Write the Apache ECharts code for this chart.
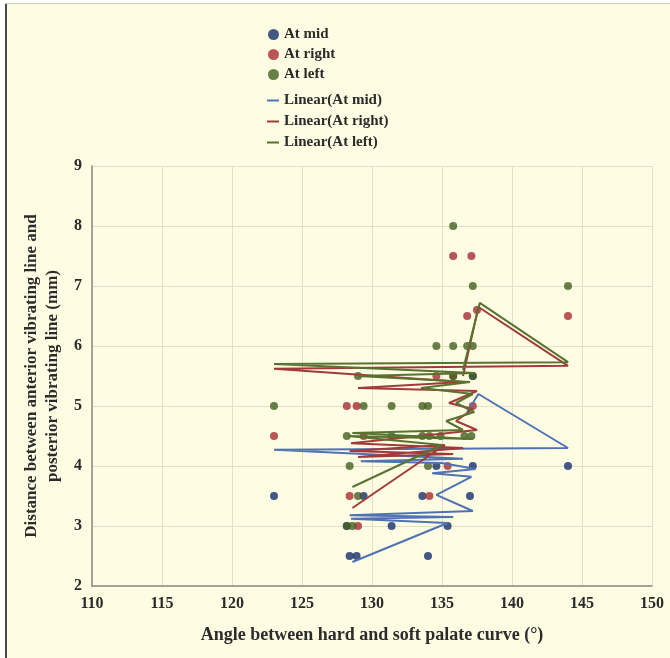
<!DOCTYPE html>
<html>
<head>
<meta charset="utf-8">
<script src="https://cdn.jsdelivr.net/npm/echarts@6/dist/echarts.min.js"></script>
<style>
  html, body { margin: 0; padding: 0; background: #fff; }
  #chart { width: 670px; height: 658px; }
</style>
</head>
<body>
<div id="chart"></div>
<script>
// scatter points
var midX   = [123, 128.4, 128.9, 128.2, 129.4, 131.4, 134.0, 133.6, 135.4, 134.6, 137.0, 137.2, 137.2, 144];
var midY   = [3.5, 2.5,   2.5,   3.0,   3.5,   3.0,   2.5,   3.5,   3.0,   4.0,   3.5,   4.0,   5.5,   4.0];
var rightX = [123, 128.4, 129.0, 134.1, 135.4, 129.4, 128.2, 128.9, 137.2, 134.6, 135.8, 135.8, 137.1, 136.8, 137.5, 144];
var rightY = [4.5, 3.5,   3.0,   3.5,   4.0,   4.5,   5.0,   5.0,   5.0,   5.5,   5.5,   7.5,   7.5,   6.5,   6.6,   6.5];
var leftX  = [123, 128.2, 128.6, 129.0, 128.4, 134.0, 128.2, 131.4, 133.6, 134.1, 134.9, 136.6, 137.1, 129.4, 131.4, 133.6, 134.0, 129.0, 135.8, 137.2, 134.6, 135.8, 136.8, 137.2, 135.8, 137.2, 144];
var leftY  = [5.0, 3.0,   3.0,   3.5,   4.0,   4.0,   4.5,   4.5,   4.5,   4.5,   4.5,   4.5,   4.5,   5.0,   5.0,   5.0,   5.0,   5.5,   5.5,   5.5,   6.0,   6.0,   6.0,   6.0,   8.0,   7.0,   7.0];

// "Linear" traces, vertices in drawing order
var linMidX   = [128.6, 135.4, 128.5, 135.8, 128.4, 137.2, 134.6, 137.1, 134.3, 137.4, 135.0, 129.2, 136.5, 123.0, 144.0, 137.6, 136.8];
var linMidY   = [2.4,   3.05,  3.12,  3.15,  3.18,  3.25,  3.52,  3.82,  3.88,  3.95,  4.05,  4.08,  4.12,  4.27,  4.3,   5.2,   4.9];
var linRightX = [128.6, 135.2, 128.4, 135.8, 129.0, 136.5, 128.5, 137.5, 136.0, 137.2, 135.5, 137.5, 129.0, 136.5, 123.0, 144.0, 137.6, 136.5];
var linRightY = [3.3,   4.35,  4.25,  4.2,   4.15,  4.3,   4.38,  4.6,   4.75,  4.95,  5.05,  5.25,  5.3,   5.4,   5.62,  5.67,  6.65,  5.5];
var linLeftX  = [128.6, 135.0, 128.3, 137.2, 128.6, 136.5, 135.3, 137.3, 136.0, 137.2, 133.5, 137.0, 129.0, 137.3, 123.0, 144.0, 137.7, 136.5];
var linLeftY  = [3.65,  4.35,  4.5,   4.45,  4.55,  4.6,   4.75,  4.9,   5.05,  5.2,   5.3,   5.4,   5.5,   5.55,  5.7,   5.73,  6.72,  5.6];

function pairs(xs, ys) {
  var out = [];
  for (var i = 0; i < xs.length; i++) out.push([xs[i], ys[i]]);
  return out;
}

var serif = "'Liberation Serif', 'DejaVu Serif', serif";
var textCol = '#2b2b2b';

var chart = echarts.init(document.getElementById('chart'));
chart.setOption({
  backgroundColor: '#fefde4',
  animation: false,
  graphic: [
    { type: 'rect', shape: { x: 0, y: 0, width: 5, height: 658 }, style: { fill: '#fff' } },
    { type: 'rect', shape: { x: 5, y: 0, width: 2, height: 658 }, style: { fill: '#4a4a4a' } },
    { type: 'rect', shape: { x: 0, y: 0, width: 670, height: 3 }, style: { fill: '#fff' } },
    { type: 'rect', shape: { x: 5, y: 3, width: 665, height: 1 }, style: { fill: '#cfcbaa' } }
  ],
  legend: [
    {
      orient: 'vertical', left: 263, top: 22, itemGap: 5,
      icon: 'circle', itemWidth: 11, itemHeight: 11,
      textStyle: { fontFamily: serif, fontSize: 15, fontWeight: 'bold', color: textCol },
      data: ['At mid', 'At right', 'At left']
    },
    {
      orient: 'vertical', left: 262, top: 88, itemGap: 6,
      icon: 'rect', itemWidth: 12, itemHeight: 2,
      textStyle: { fontFamily: serif, fontSize: 15, fontWeight: 'bold', color: textCol },
      data: ['Linear(At mid)', 'Linear(At right)', 'Linear(At left)']
    }
  ],
  grid: { left: 92, right: 18, top: 166, bottom: 72 },
  xAxis: {
    type: 'value', min: 110, max: 150, interval: 5,
    name: 'Angle between hard and soft palate curve (°)',
    nameLocation: 'middle', nameGap: 40,
    nameTextStyle: { fontFamily: serif, fontSize: 18, fontWeight: 'bold', color: textCol },
    axisLine: { lineStyle: { color: '#8a8a80', width: 1.5 } },
    axisTick: { show: false },
    axisLabel: { fontFamily: serif, fontSize: 16, fontWeight: 'bold', color: textCol, margin: 10 },
    splitLine: { show: true, lineStyle: { color: '#e2dfc8' } }
  },
  yAxis: {
    type: 'value', min: 2, max: 9, interval: 1,
    name: 'Distance between anterior vibrating line and\nposterior vibrating line (mm)',
    nameLocation: 'middle', nameGap: 25,
    nameTextStyle: { fontFamily: serif, fontSize: 17, fontWeight: 'bold', color: textCol, lineHeight: 21 },
    axisLine: { show: true, lineStyle: { color: '#8a8a80', width: 1.5 } },
    axisTick: { show: false },
    axisLabel: { fontFamily: serif, fontSize: 16, fontWeight: 'bold', color: textCol, margin: 10 },
    splitLine: { show: true, lineStyle: { color: '#e2dfc8' } }
  },
  series: [
    { name: 'At mid', type: 'scatter', symbolSize: 8, itemStyle: { color: '#14306a' }, data: pairs(midX, midY) },
    { name: 'At right', type: 'scatter', symbolSize: 8, itemStyle: { color: '#a82a32' }, data: pairs(rightX, rightY) },
    { name: 'At left', type: 'scatter', symbolSize: 8, itemStyle: { color: '#445f20' }, data: pairs(leftX, leftY) },
    { name: 'Linear(At mid)', type: 'line', showSymbol: false, symbol: 'none',
      itemStyle: { color: '#4f72b2' }, lineStyle: { color: '#4f72b2', width: 2 }, data: pairs(linMidX, linMidY) },
    { name: 'Linear(At right)', type: 'line', showSymbol: false, symbol: 'none',
      itemStyle: { color: '#a33a3a' }, lineStyle: { color: '#a33a3a', width: 2 }, data: pairs(linRightX, linRightY) },
    { name: 'Linear(At left)', type: 'line', showSymbol: false, symbol: 'none',
      itemStyle: { color: '#587330' }, lineStyle: { color: '#587330', width: 2 }, data: pairs(linLeftX, linLeftY) }
  ]
});
</script>
</body>
</html>
